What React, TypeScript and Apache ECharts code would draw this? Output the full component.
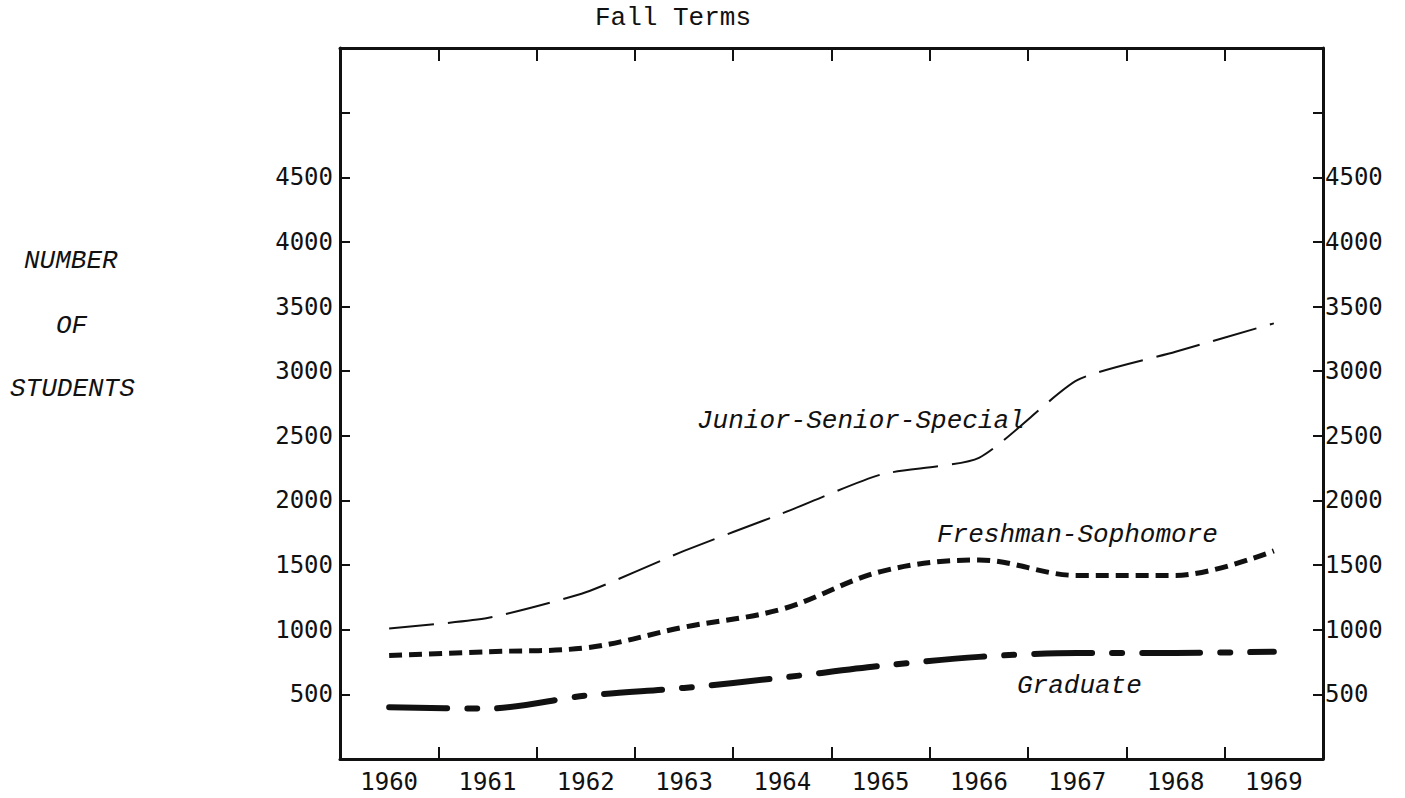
import React, { useEffect, useRef } from "react";
import * as echarts from "echarts";

const years = ["1960", "1961", "1962", "1963", "1964", "1965", "1966", "1967", "1968", "1969"];
const juniorSeniorSpecial = [1010, 1090, 1290, 1610, 1900, 2200, 2330, 2930, 3150, 3370];
const freshmanSophomore = [800, 830, 860, 1020, 1160, 1450, 1540, 1420, 1420, 1610];
const graduate = [400, 390, 490, 550, 630, 720, 790, 820, 820, 830];
const yTickLabels = [500, 1000, 1500, 2000, 2500, 3000, 3500, 4000, 4500];

const INK = "#111";
const TICK_FONT = "'DejaVu Sans Mono', monospace";
const TYPE_FONT = "'Liberation Mono', 'Courier New', monospace";

export default function App() {
  const ref = useRef<HTMLDivElement>(null);
  useEffect(() => {
    if (!ref.current) return;
    const chart = echarts.init(ref.current, null, { renderer: "svg" });
    const yFmt = (v: number) => (yTickLabels.indexOf(v) >= 0 ? String(v) : "");
    const axisLine = { show: true, onZero: false, lineStyle: { color: INK, width: 3 } };
    chart.setOption({
      animation: false,
      backgroundColor: "#fff",
      grid: { left: 340, top: 48, width: 983, height: 711, containLabel: false },
      xAxis: [
        {
          type: "category",
          position: "bottom",
          data: years,
          boundaryGap: true,
          axisLine,
          axisTick: { show: true, inside: true, length: 12, interval: 0, lineStyle: { color: INK, width: 2 } },
          axisLabel: { color: INK, fontFamily: TICK_FONT, fontSize: 24, margin: 11, interval: 0 },
          splitLine: { show: false },
        },
        {
          type: "category",
          position: "top",
          data: years,
          boundaryGap: true,
          axisLine,
          axisTick: { show: true, inside: true, length: 13, interval: 0, lineStyle: { color: INK, width: 2 } },
          axisLabel: { show: false },
          splitLine: { show: false },
        },
      ],
      yAxis: [
        {
          type: "value",
          position: "left",
          min: 0,
          max: 5500,
          interval: 500,
          axisLine,
          axisTick: { show: true, inside: true, length: 10, lineStyle: { color: INK, width: 2 } },
          axisLabel: { color: INK, fontFamily: TICK_FONT, fontSize: 24, margin: 7, formatter: yFmt },
          splitLine: { show: false },
        },
        {
          type: "value",
          position: "right",
          min: 0,
          max: 5500,
          interval: 500,
          axisLine,
          axisTick: { show: true, inside: true, length: 10, lineStyle: { color: INK, width: 2 } },
          axisLabel: { color: INK, fontFamily: TICK_FONT, fontSize: 24, margin: 2, formatter: yFmt },
          splitLine: { show: false },
        },
      ],
      series: [
        {
          name: "Junior-Senior-Special",
          type: "line",
          data: juniorSeniorSpecial,
          smooth: 0.2,
          symbol: "none",
          lineStyle: { color: INK, width: 2, type: [45, 14] },
        },
        {
          name: "Freshman-Sophomore",
          type: "line",
          data: freshmanSophomore,
          smooth: 0.35,
          symbol: "none",
          lineStyle: { color: INK, width: 5, type: [13, 7] },
        },
        {
          name: "Graduate",
          type: "line",
          data: graduate,
          smooth: 0.3,
          symbol: "none",
          lineStyle: { color: INK, width: 6, type: [58, 20, 10, 20], cap: "round" },
        },
      ],
      graphic: [
        { type: "text", left: 595, top: 5, style: { text: "Fall Terms", fill: INK, font: `26px ${TYPE_FONT}` } },
        { type: "text", left: 24, top: 248, style: { text: "NUMBER", fill: INK, font: `italic 26px ${TYPE_FONT}` } },
        { type: "text", left: 56, top: 313, style: { text: "OF", fill: INK, font: `italic 26px ${TYPE_FONT}` } },
        { type: "text", left: 10, top: 376, style: { text: "STUDENTS", fill: INK, font: `italic 26px ${TYPE_FONT}` } },
        { type: "text", left: 697, top: 408, style: { text: "Junior-Senior-Special", fill: INK, font: `italic 26px ${TYPE_FONT}` } },
        { type: "text", left: 937, top: 522, style: { text: "Freshman-Sophomore", fill: INK, font: `italic 26px ${TYPE_FONT}` } },
        { type: "text", left: 1017, top: 673, style: { text: "Graduate", fill: INK, font: `italic 26px ${TYPE_FONT}` } },
      ],
    });
    return () => chart.dispose();
  }, []);
  return <div ref={ref} style={{ position: "fixed", left: 0, top: 0, width: 1405, height: 798, background: "#fff" }} />;
}
